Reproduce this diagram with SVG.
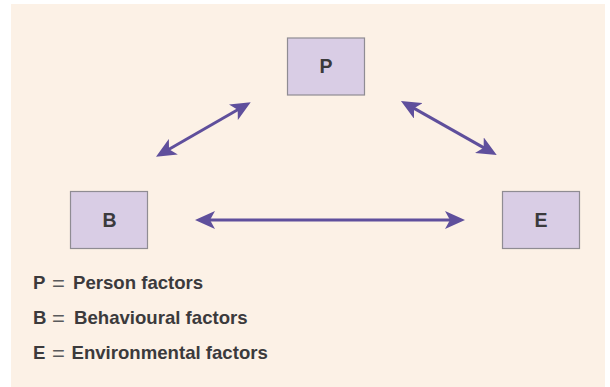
<svg xmlns="http://www.w3.org/2000/svg" width="610" height="387" viewBox="0 0 610 387">
  <style>
    .node rect { fill: #d9cde5; stroke: #8f8c93; stroke-width: 1.2; }
    .node text { font-family: "Liberation Sans", Arial, sans-serif; font-weight: 700; font-size: 19.5px; fill: #3b3a3c; text-anchor: middle; }
    .link { stroke: #5f4f9c; stroke-width: 3; fill: none; marker-start: url(#head); marker-end: url(#head); }
    .legend text { font-family: "Liberation Sans", Arial, sans-serif; font-weight: 700; font-size: 18.6px; fill: #3b3a3c; }
    .legend .eq { font-weight: 400; font-size: 22px; fill: #5a5a5c; }
  </style>
  <defs>
    <marker id="head" viewBox="0 0 20 18" refX="14" refY="9" markerWidth="20" markerHeight="18" markerUnits="userSpaceOnUse" orient="auto-start-reverse">
      <path d="M0,0 L20,9 L0,18 L5,9 Z" fill="#5f4f9c"/>
    </marker>
  </defs>

  <!-- background panel -->
  <rect x="11" y="4" width="594" height="383" fill="#fcf1e6"/>

  <!-- connectors -->
  <g id="connectors">
    <line class="link" x1="161.2" y1="153.7" x2="245.5" y2="105.3"/>
    <line class="link" x1="406.2" y1="103.9" x2="491.5" y2="152.1"/>
    <line class="link" x1="201" y1="220" x2="459" y2="220"/>
  </g>

  <!-- nodes -->
  <g id="node-P" class="node">
    <rect x="287.5" y="38" width="77" height="57"/>
    <text x="326" y="72.5">P</text>
  </g>
  <g id="node-B" class="node">
    <rect x="70.5" y="191.5" width="77" height="57"/>
    <text x="109.5" y="226.5">B</text>
  </g>
  <g id="node-E" class="node">
    <rect x="502.5" y="191.5" width="77" height="57"/>
    <text x="541" y="226.5">E</text>
  </g>

  <!-- legend -->
  <g id="legend" class="legend">
    <text x="33" y="289">P</text>
    <text class="eq" x="52" y="291">=</text>
    <text x="73" y="289">Person factors</text>
    <text x="33" y="324">B</text>
    <text class="eq" x="52" y="326">=</text>
    <text x="74" y="324">Behavioural factors</text>
    <text x="33" y="359">E</text>
    <text class="eq" x="52" y="361">=</text>
    <text x="71.5" y="359">Environmental factors</text>
  </g>
</svg>
